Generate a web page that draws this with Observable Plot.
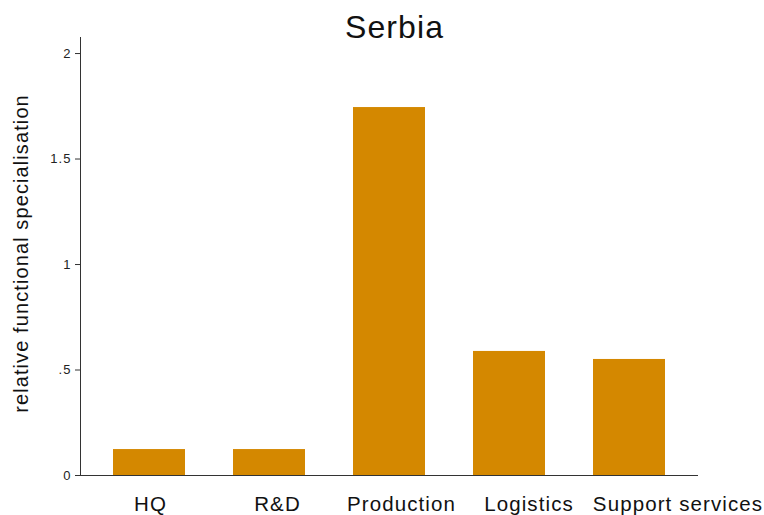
<!DOCTYPE html>
<html>
<head>
<meta charset="utf-8">
<script src="https://cdn.jsdelivr.net/npm/d3@7"></script>
<script src="https://cdn.jsdelivr.net/npm/@observablehq/plot@0.6"></script>
<style>
  html, body { margin: 0; padding: 0; background: #fff; }
  #chart svg { display: block; }
  #chart svg text { letter-spacing: 1.1px; }
</style>
</head>
<body>
<div id="chart"></div>
<script>
const title = "Serbia";
const yLabel = "relative functional specialisation";
const categories = ["HQ", "R&D", "Production", "Logistics", "Support services"];
const values = [0.123, 0.123, 1.744, 0.588, 0.55];
const yTicks = [0, 0.5, 1, 1.5, 2];

const data = categories.map((c, i) => ({category: c, value: values[i]}));
const fmt = d => d === 0 ? "0" : String(d).replace(/^0\./, ".");

// label nudges as laid out in the original figure
const labelShift = [1, 8, 12, 19.5, 48.5];
const labelMarks = categories.map((c, i) =>
  Plot.text([c], {x: d => d, frameAnchor: "bottom", lineAnchor: "top", dy: 20.5, dx: labelShift[i], fontSize: 20.5, fill: "#111"})
);

const chart = Plot.plot({
  width: 764,
  height: 515,
  marginLeft: 80,
  marginRight: 66,
  marginTop: 37,
  marginBottom: 40,
  style: {fontFamily: "'Liberation Sans', Arial, sans-serif", background: "#fff", color: "#222"},
  x: {domain: categories, paddingInner: 0.4, paddingOuter: 0.275, label: null, axis: null},
  y: {domain: [0, 2.076], label: null},
  marks: [
    Plot.barY(data, {x: "category", y: "value", fill: "#d48800"}),
    Plot.frame({anchor: "left", stroke: "#333", strokeWidth: 1}),
    Plot.ruleY([0], {stroke: "#333", strokeWidth: 1.2}),
    Plot.axisY({ticks: yTicks, tickFormat: fmt, tickSize: 5, tickPadding: 4, fontSize: 13, label: null, stroke: "#333"}),
    ...labelMarks,
    Plot.text([title], {frameAnchor: "top", lineAnchor: "bottom", dx: 5, dy: 0, fontSize: 32, fill: "#111"}),
    Plot.text([yLabel], {frameAnchor: "left", rotate: -90, lineAnchor: "bottom", textAnchor: "middle", dx: -52.5, dy: -3, fontSize: 20, fill: "#111"})
  ]
});
document.getElementById("chart").append(chart);
</script>
</body>
</html>
